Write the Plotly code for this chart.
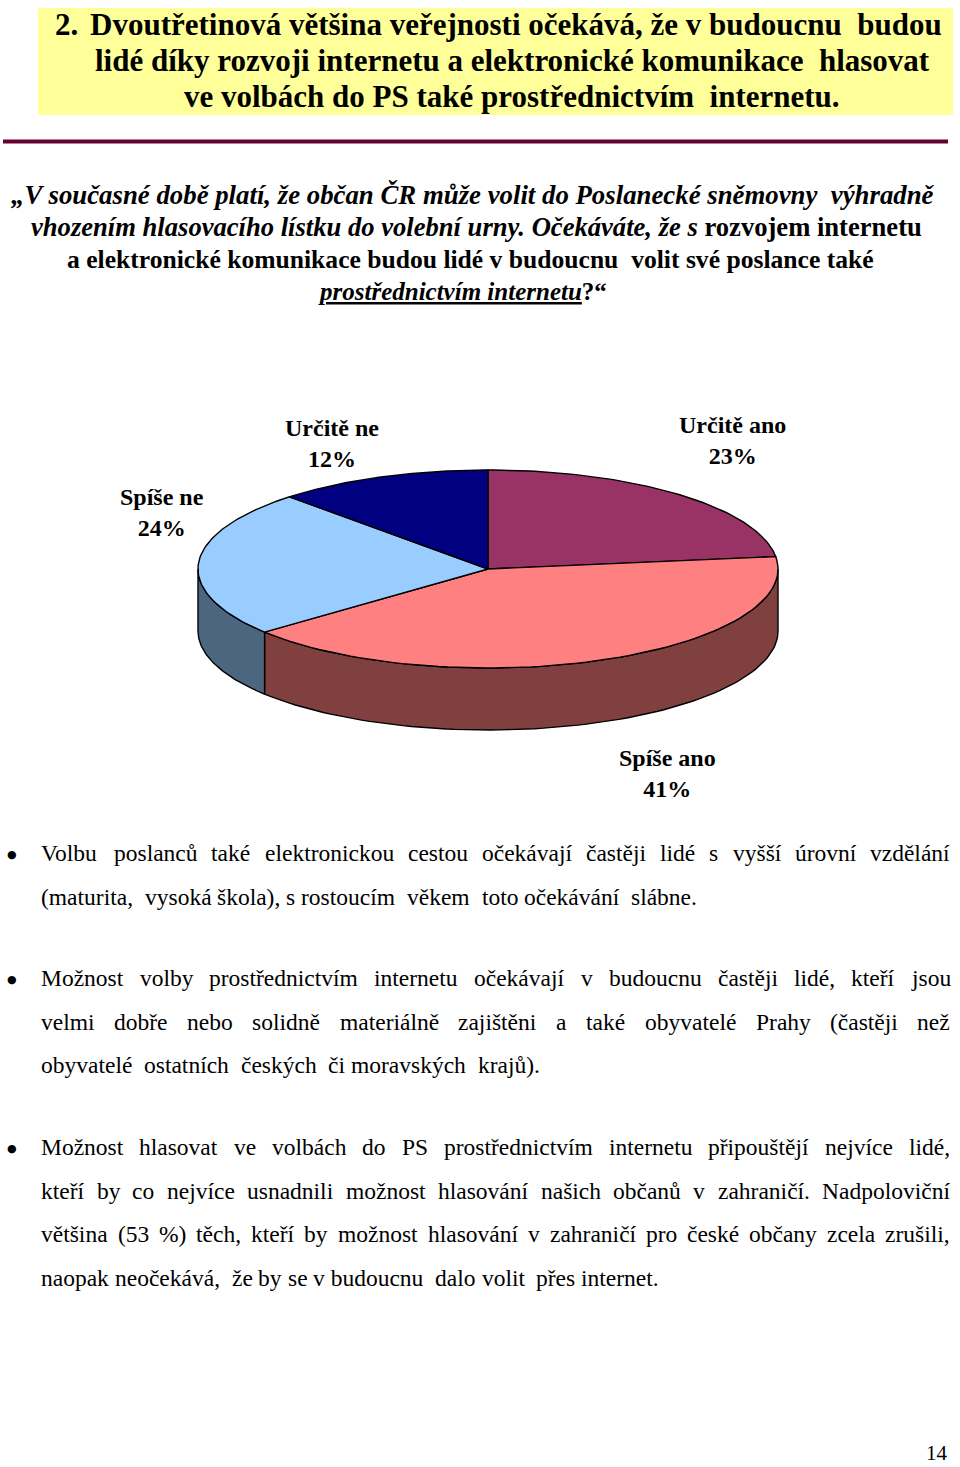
import math
import unicodedata
import plotly.graph_objects as go

# ---------------- data ----------------
categories = ["Určitě ano", "Spíše ano", "Spíše ne", "Určitě ne"]
values = [23, 41, 24, 12]
top_colors = ["#993366", "#FF8080", "#99CCFF", "#000080"]
side_colors = ["#4D1A33", "#804040", "#4D6680", "#000040"]

title_number = "2."
title_lines = [
    "Dvoutřetinová většina veřejnosti očekává, že v budoucnu  budou",
    "lidé díky rozvoji internetu a elektronické komunikace  hlasovat",
    "ve volbách do PS také prostřednictvím  internetu.",
]
question_lines = [
    "<b><i>„V současné době platí, že občan ČR může volit do Poslanecké sněmovny  výhradně</i></b>",
    "<b><i>vhozením hlasovacího lístku do volební urny. Očekáváte, že s</i> rozvojem internetu</b>",
    "<b>a elektronické komunikace budou lidé v budoucnu  volit své poslance také</b>",
    "<b><i><u>prostřednictvím internetu</u></i>?“</b>",
]
paragraphs = [
    [
        "Volbu poslanců také elektronickou cestou očekávají častěji lidé s\u00a0vyšší úrovní vzdělání",
        "(maturita,  vysoká škola), s\u00a0rostoucím  věkem  toto očekávání  slábne.",
    ],
    [
        "Možnost volby prostřednictvím internetu očekávají v budoucnu častěji lidé, kteří jsou",
        "velmi dobře nebo solidně materiálně zajištěni a také obyvatelé Prahy (častěji než",
        "obyvatelé  ostatních  českých  či moravských  krajů).",
    ],
    [
        "Možnost hlasovat ve volbách do PS prostřednictvím internetu připouštějí nejvíce lidé,",
        "kteří by co nejvíce usnadnili možnost hlasování našich občanů v\u00a0zahraničí. Nadpoloviční",
        "většina (53 %) těch, kteří by možnost hlasování v\u00a0zahraničí pro české občany zcela zrušili,",
        "naopak neočekává,  že by se v\u00a0budoucnu  dalo volit  přes internet.",
    ],
]
page_number = "14"

# ---------------- layout constants ----------------
W, H = 960, 1467
SERIF = "Liberation Serif, Times New Roman, DejaVu Serif, serif"
CX, CY, RX, RY, DEPTH = 488, 569, 290, 99, 62
label_pos = [(732, 440), (667, 773), (162, 512), (332, 443)]

fig = go.Figure()
annotations = []
shapes = []


def txt(x, y, text, size, xanchor="left", color="black", family=SERIF):
    annotations.append(dict(
        x=x, y=y, xref="x", yref="y", text=text, showarrow=False,
        xanchor=xanchor, yanchor="middle", borderpad=0, borderwidth=0,
        font=dict(family=family, size=size, color=color),
    ))


# ---------------- header ----------------
shapes.append(dict(type="rect", xref="x", yref="y", x0=38, x1=953, y0=8, y1=115,
                   fillcolor="#FFFF99", line=dict(width=0), layer="below"))
shapes.append(dict(type="line", xref="x", yref="y", x0=3, x1=948, y0=141.5, y1=141.5,
                   line=dict(color="#660033", width=4)))
HEAD_SIZE = 31
txt(55, 24, "<b>" + title_number + "</b>", HEAD_SIZE)
txt(90, 24, "<b>" + title_lines[0] + "</b>", HEAD_SIZE)
txt(512, 60, "<b>" + title_lines[1] + "</b>", HEAD_SIZE, xanchor="center")
txt(512, 96, "<b>" + title_lines[2] + "</b>", HEAD_SIZE, xanchor="center")

# ---------------- question ----------------
Q_SIZES = [26.8, 26.6, 25.6, 25]
Q_X = [473, 476, 470, 462]
for i, line in enumerate(question_lines):
    txt(Q_X[i], 195 + 32 * i, line, Q_SIZES[i], xanchor="center")

# ---------------- 3D pie ----------------
total = float(sum(values))
cum = 0.0
bounds = []
for v in values:
    a0 = 90 - 360 * cum / total
    cum += v
    a1 = 90 - 360 * cum / total
    bounds.append((a0, a1))


def ell(theta, dy=0.0):
    t = math.radians(theta)
    return CX + RX * math.cos(t), CY - RY * math.sin(t) + dy


def arc(a_from, a_to, dy=0.0, n=80):
    pts = []
    for k in range(n + 1):
        th = a_from + (a_to - a_from) * k / n
        pts.append(ell(th, dy))
    return pts


# side walls (front half: angles between -180 and 0)
for (a0, a1), col in zip(bounds, side_colors):
    for shift in (0, -360, 360):
        hi = min(a0 + shift, 0)
        lo = max(a1 + shift, -180)
        if lo < hi:
            top = arc(hi, lo)
            bot = arc(lo, hi, DEPTH)
            pts = top + bot + [top[0]]
            fig.add_trace(go.Scatter(
                x=[p[0] for p in pts], y=[p[1] for p in pts], mode="lines",
                fill="toself", fillcolor=col, line=dict(color="black", width=1.4),
                hoverinfo="skip", showlegend=False))

# top faces
for (a0, a1), col in zip(bounds, top_colors):
    pts = [(CX, CY)] + arc(a0, a1) + [(CX, CY)]
    fig.add_trace(go.Scatter(
        x=[p[0] for p in pts], y=[p[1] for p in pts], mode="lines",
        fill="toself", fillcolor=col, line=dict(color="black", width=1.4),
        hoverinfo="skip", showlegend=False))

for cat, v, (lx, ly) in zip(categories, values, label_pos):
    txt(lx, ly, "<b>%s<br>%d%%</b>" % (cat, v), 24, xanchor="center")

# ---------------- body paragraphs (justified) ----------------
TR = {' ': 250, '\u00a0': 250, 'a': 444, 'b': 500, 'c': 444, 'd': 500, 'e': 444, 'f': 333,
      'g': 500, 'h': 500, 'i': 278, 'j': 278, 'k': 500, 'l': 278, 'm': 778, 'n': 500,
      'o': 500, 'p': 500, 'q': 500, 'r': 333, 's': 389, 't': 278, 'u': 500, 'v': 500,
      'w': 722, 'x': 500, 'y': 500, 'z': 444, 'A': 722, 'B': 667, 'C': 667, 'D': 722,
      'E': 611, 'F': 556, 'G': 722, 'H': 722, 'I': 333, 'J': 389, 'K': 722, 'L': 611,
      'M': 889, 'N': 722, 'O': 722, 'P': 556, 'Q': 722, 'R': 667, 'S': 556, 'T': 611,
      'U': 722, 'V': 722, 'W': 944, 'X': 722, 'Y': 722, 'Z': 611, '.': 250, ',': 250,
      '(': 333, ')': 333, '%': 833, '?': 444, ':': 278, ';': 278, '-': 333}
for d in "0123456789":
    TR[d] = 500


def width(word, size):
    s = 0
    for ch in word:
        base = unicodedata.normalize("NFD", ch)[0]
        s += TR.get(ch, TR.get(base, 500))
    return s * size / 1000.0


BODY = 23.5
X0, X1 = 41, 950
para_y = [853, 978, 1147]
LINE_H = 43.5
for p, lines in enumerate(paragraphs):
    txt(12, para_y[p] + 1, "●", 11, xanchor="center", family="DejaVu Sans")
    for li, line in enumerate(lines):
        y = para_y[p] + li * LINE_H
        if li == len(lines) - 1:
            # last line: natural spacing (Word double spaces kept)
            x = X0
            sp = width(" ", BODY)
            for tok in line.split(" "):
                if tok:
                    txt(x, y, tok, BODY)
                    x += width(tok, BODY)
                x += sp
            continue
        words = line.split()
        ws = [width(w, BODY) for w in words]
        gap = (X1 - X0 - sum(ws)) / (len(words) - 1)
        x = X0
        for w, wd in zip(words, ws):
            txt(x, y, w, BODY)
            x += wd + gap

txt(937, 1453, page_number, 21, xanchor="center")

fig.update_layout(
    width=W, height=H, margin=dict(l=0, r=0, t=0, b=0),
    paper_bgcolor="white", plot_bgcolor="white",
    xaxis=dict(range=[0, W], visible=False, fixedrange=True),
    yaxis=dict(range=[H, 0], visible=False, fixedrange=True),
    annotations=annotations, shapes=shapes, showlegend=False,
)
fig.write_html(
    "out.html",
    config={"displayModeBar": False},
    post_script="document.body.style.margin='0';document.body.style.overflow='hidden';",
)
